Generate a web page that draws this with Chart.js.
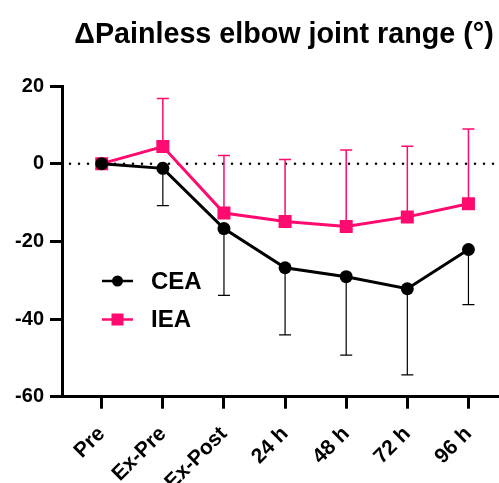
<!DOCTYPE html>
<html>
<head>
<meta charset="utf-8">
<script src="https://cdn.jsdelivr.net/npm/chart.js@4.4.1/dist/chart.umd.min.js"></script>
<style>
  html, body { margin: 0; padding: 0; background: #fff; }
  #wrap { width: 499px; height: 483px; }
</style>
</head>
<body>
<div id="wrap"><canvas id="c"></canvas></div>
<script>
const timepoints = ['Pre', 'Ex-Pre', 'Ex-Post', '24 h', '48 h', '72 h', '96 h'];
const ceaMean = [0, -1.2, -16.7, -26.8, -29.1, -32.2, -22.1];
const ceaSD = [0, 9.6, 17.2, 17.3, 20.2, 22.2, 14.2];
const ieaMean = [0, 4.4, -12.7, -14.9, -16.2, -13.7, -10.3];
const ieaSD = [0, 12.4, 14.8, 16.0, 19.7, 18.2, 19.2];
const yTicks = [-60, -40, -20, 0, 20];

const PINK = '#FF0A6E';
const FONT = "'Liberation Sans', Arial, sans-serif";

function toPoints(arr) {
    return arr.map((v, i) => ({ x: i, y: v }));
}

// error bars: CEA goes down, IEA goes up (one-sided, like the figure)
const errorBars = {
    id: 'errorBars',
    beforeDatasetsDraw(chart) {
        const ctx = chart.ctx;
        const xs = chart.scales.x, ys = chart.scales.y;
        const area = chart.chartArea;

        // dotted zero line
        ctx.save();
        ctx.strokeStyle = '#000';
        ctx.lineWidth = 2.5;
        ctx.lineCap = 'round';
        ctx.setLineDash([0, 9]);
        const y0 = ys.getPixelForValue(0);
        ctx.beginPath();
        ctx.moveTo(area.left + 8, y0);
        ctx.lineTo(area.right, y0);
        ctx.stroke();
        ctx.restore();

        const sets = [
            { mean: ceaMean, sd: ceaSD, dir: -1, color: '#000', width: 1.2 },
            { mean: ieaMean, sd: ieaSD, dir: 1, color: PINK, width: 1.5 }
        ];
        ctx.save();
        sets.forEach(s => {
            ctx.strokeStyle = s.color;
            ctx.lineWidth = s.width;
            s.mean.forEach((m, i) => {
                if (!s.sd[i]) return;
                const px = xs.getPixelForValue(i);
                const py = ys.getPixelForValue(m);
                const pe = ys.getPixelForValue(m + s.dir * s.sd[i]);
                ctx.beginPath();
                ctx.moveTo(px, py);
                ctx.lineTo(px, pe);
                ctx.moveTo(px - 6, pe);
                ctx.lineTo(px + 6, pe);
                ctx.stroke();
            });
        });
        ctx.restore();
    },
    afterDraw(chart) {
        const ctx = chart.ctx;
        ctx.save();
        // title
        ctx.fillStyle = '#000';
        ctx.font = 'bold 28.7px ' + FONT;
        ctx.textAlign = 'center';
        ctx.textBaseline = 'alphabetic';
        ctx.fillText('\u0394Painless elbow joint range (\u00b0)', 284, 43);

        // legend inside the plot
        const items = [
            { label: 'CEA', color: '#000', style: 'circle', y: 281 },
            { label: 'IEA', color: PINK, style: 'rect', y: 319.5 }
        ];
        items.forEach(it => {
            ctx.strokeStyle = it.color;
            ctx.fillStyle = it.color;
            ctx.lineWidth = 2.5;
            ctx.beginPath();
            ctx.moveTo(102, it.y);
            ctx.lineTo(133, it.y);
            ctx.stroke();
            if (it.style === 'circle') {
                ctx.beginPath();
                ctx.arc(117.5, it.y, 5.5, 0, Math.PI * 2);
                ctx.fill();
            } else {
                ctx.fillRect(111.5, it.y - 6, 12, 12);
            }
            ctx.fillStyle = '#000';
            ctx.font = 'bold 24px ' + FONT;
            ctx.textAlign = 'left';
            ctx.textBaseline = 'middle';
            ctx.fillText(it.label, 151, it.y + 1);
        });
        ctx.restore();
    }
};

new Chart(document.getElementById('c'), {
    type: 'line',
    data: {
        datasets: [
            {
                label: 'CEA',
                data: toPoints(ceaMean),
                borderColor: '#000',
                backgroundColor: '#000',
                borderWidth: 3,
                pointStyle: 'circle',
                pointRadius: 6.5,
                pointBorderWidth: 0,
                tension: 0
            },
            {
                label: 'IEA',
                data: toPoints(ieaMean),
                borderColor: PINK,
                backgroundColor: PINK,
                borderWidth: 3,
                pointStyle: 'rect',
                pointRadius: 9.2,
                pointBorderWidth: 0,
                tension: 0
            }
        ]
    },
    options: {
        responsive: true,
        maintainAspectRatio: false,
        animation: false,
        events: [],
        layout: { autoPadding: false, padding: { top: 86, right: 0, left: 0, bottom: 0 } },
        plugins: {
            legend: { display: false },
            title: { display: false },
            tooltip: { enabled: false }
        },
        scales: {
            x: {
                type: 'linear',
                min: -0.65,
                max: 6.5,
                afterBuildTicks: scale => {
                    scale.ticks = timepoints.map((_, i) => ({ value: i }));
                },
                afterFit: scale => {
                    scale.height = 86.3;
                    scale.paddingLeft = 0;
                    scale.paddingRight = 0;
                },
                border: { color: '#000', width: 3 },
                grid: {
                    drawOnChartArea: false,
                    tickLength: 12,
                    tickWidth: 3,
                    tickColor: '#000'
                },
                ticks: {
                    autoSkip: false,
                    maxRotation: 45,
                    minRotation: 45,
                    padding: 13,
                    color: '#000',
                    font: { family: FONT, size: 21, weight: 'bold' },
                    callback: v => timepoints[v]
                }
            },
            y: {
                min: -60,
                max: 20,
                afterBuildTicks: scale => {
                    scale.ticks = yTicks.map(v => ({ value: v }));
                },
                afterFit: scale => { scale.width = 62; },
                border: { color: '#000', width: 3 },
                grid: {
                    drawOnChartArea: false,
                    tickLength: 12,
                    tickWidth: 3,
                    tickColor: '#000'
                },
                ticks: {
                    padding: 6,
                    color: '#000',
                    font: { family: FONT, size: 20, weight: 'bold' }
                }
            }
        }
    },
    plugins: [errorBars]
});
</script>
</body>
</html>
